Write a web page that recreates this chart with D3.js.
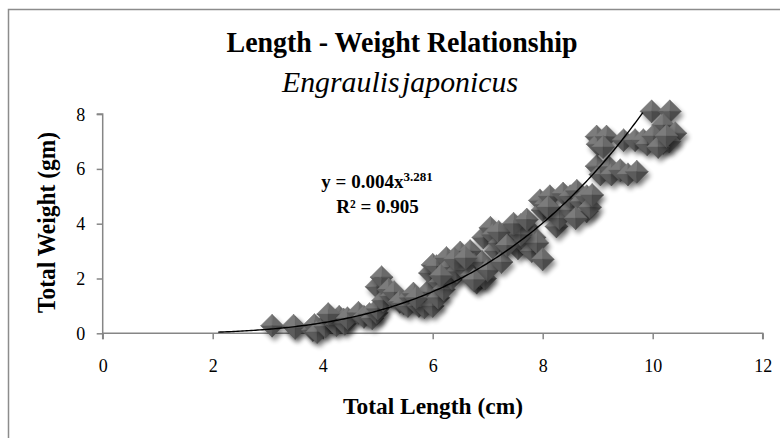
<!DOCTYPE html>
<html><head><meta charset="utf-8">
<script src="https://cdn.jsdelivr.net/npm/d3@7"></script>
<style>
body{margin:0;background:#fff}
svg{display:block}
text{font-family:"Liberation Serif","Times New Roman",serif;fill:#000}
</style>
</head><body><svg id="c" width="780" height="438"></svg>
<script>
// Total length (cm) of each fish
const lengths = [
  3.08,3.47,3.50,3.82,3.85,3.90,4.05,4.15,4.20,4.25,4.30,4.38,4.40,4.10,4.45,
  4.65,4.75,4.85,4.90,4.98,5.00,4.98,5.07,5.10,5.20,
  5.25,5.30,5.40,5.47,5.55,5.60,5.65,5.75,5.80,5.85,5.90,5.95,6.00,6.00,5.70,
  6.07,6.10,6.13,6.20,6.25,6.30,6.35,6.44,6.50,6.55,6.60,6.68,6.70,6.75,6.80,6.86,6.90,6.92,6.95,7.00,
  6.15,6.40,6.60,6.75,
  7.05,7.10,7.15,7.22,7.25,7.30,7.41,7.50,7.55,7.60,7.65,7.70,7.74,7.80,7.85,7.90,8.00,7.20,7.35,7.60,
  7.47,7.71,7.95,8.00,8.05,8.13,8.19,8.25,8.30,8.37,8.50,8.50,8.62,8.70,8.80,8.80,8.86,8.90,8.10,8.60,
  8.98,8.98,9.00,9.05,9.16,9.20,9.25,9.41,9.47,9.55,9.68,9.71,9.83,9.90,9.10,
  9.98,10.31,10.19,10.01,10.19,10.41,10.30,10.10,10.25
];
// Total weight (gm) of each fish
const weights = [
  0.28,0.28,0.20,0.12,0.30,0.05,0.25,0.55,0.40,0.30,0.60,0.50,0.35,0.70,0.55,
  0.75,0.60,0.70,0.55,0.75,0.90,1.70,2.05,1.20,1.60,
  1.35,1.50,1.15,1.10,1.00,1.30,1.45,1.00,1.20,0.95,1.50,2.20,1.00,2.50,1.30,
  2.45,1.30,1.85,1.60,2.75,2.40,2.00,2.25,2.95,2.60,2.30,3.00,2.10,2.50,1.85,2.07,2.60,3.50,2.00,2.30,
  2.10,2.70,2.75,1.95,
  3.85,3.60,3.00,3.30,2.60,3.50,3.80,3.60,3.10,3.95,3.30,3.90,3.30,3.00,3.50,3.30,2.70,3.70,3.20,3.60,
  4.00,4.15,4.85,4.50,4.70,5.00,4.40,3.90,4.20,5.10,4.50,5.00,5.20,4.80,5.00,4.45,4.60,5.05,4.60,4.20,
  7.18,6.10,6.90,5.80,7.18,6.08,5.80,5.95,7.05,5.80,7.05,5.90,7.05,6.90,6.80,
  8.10,8.10,7.60,7.20,6.95,7.30,7.00,6.80,7.20
];
const xTicks = [0, 2, 4, 6, 8, 10, 12];
const yTicks = [0, 2, 4, 6, 8];
const xDomain = [0, 12];
const yDomain = [0, 8];
// power trendline shown on the chart
const trendA = 0.00353, trendB = 3.385, trendStart = 2.1, trendEnd = 9.82;
const titleText = "Length - Weight Relationship";
const subtitleText = "Engraulis japonicus";
const xTitle = "Total Length (cm)";
const yTitle = "Total Weight  (gm)";
const eqMain = "y = 0.004x", eqExp = "3.281", r2Text = "R² = 0.905";

const svg = d3.select("#c");
const defs = svg.append("defs");
const f = defs.append("filter").attr("id","sh").attr("x","-50%").attr("y","-50%").attr("width","200%").attr("height","200%");
f.append("feGaussianBlur").attr("stdDeviation",2.4);

// frame
svg.append("rect").attr("x",8.5).attr("y",9.5).attr("width",800).attr("height",500)
  .attr("fill","#fff").attr("stroke","#8c8c8c").attr("stroke-width",1.5);

const x = d3.scaleLinear().domain(xDomain).range([102.7, 762.7]);
const y = d3.scaleLinear().domain(yDomain).range([333.3, 114.1]);

// titles
svg.append("text").attr("x",402).attr("y",51.7).attr("text-anchor","middle")
  .attr("font-size",30).attr("font-weight","bold")
  .attr("textLength",351).attr("lengthAdjust","spacingAndGlyphs").text(titleText);
svg.append("text").attr("x",400).attr("y",91.7).attr("text-anchor","middle")
  .attr("font-size",30).attr("font-style","italic").attr("word-spacing",-5)
  .attr("textLength",236).attr("lengthAdjust","spacingAndGlyphs").text(subtitleText);

// axes
const ax = svg.append("g").attr("transform",`translate(0,${y(0)})`)
  .call(d3.axisBottom(x).tickValues(xTicks).tickSize(6).tickFormat(d3.format("d")));
const ay = svg.append("g").attr("transform",`translate(${x(0)},0)`)
  .call(d3.axisLeft(y).tickValues(yTicks).tickSize(6).tickFormat(d3.format("d")));
[ax, ay].forEach(g => {
  g.select(".domain").attr("stroke","#868686").attr("stroke-width",1.5);
  g.selectAll(".tick line").attr("stroke","#868686").attr("stroke-width",1.5);
  g.selectAll(".tick text").attr("font-family","Liberation Serif").attr("font-size",18).attr("fill","#000");
});
ax.select(".domain").attr("d",`M${x(0)},6V0H${x(12)}V6`);
ay.select(".domain").attr("d",`M-6,${y(8)}H0V${y(0)}`);
ax.selectAll(".tick text").attr("y",38.7).attr("dy",0);
ay.selectAll(".tick text").attr("x",-17.5).attr("dy","0.33em");

// axis titles
svg.append("text").attr("x",433).attr("y",414).attr("text-anchor","middle")
  .attr("font-size",24).attr("font-weight","bold")
  .attr("textLength",180).attr("lengthAdjust","spacingAndGlyphs").text(xTitle);
svg.append("text").attr("transform","translate(55,222.5) rotate(-90)").attr("text-anchor","middle")
  .attr("font-size",25).attr("font-weight","bold")
  .attr("textLength",181).attr("lengthAdjust","spacingAndGlyphs").text(yTitle);

// markers
const data = lengths.map((l,i)=>({l, w:weights[i]}));
const s = 11.5;
const mk = svg.append("g");
data.forEach(d => {
  const cx = x(d.l), cy = y(d.w);
  const g = mk.append("g").attr("transform",`translate(${cx},${cy})`);
  g.append("path").attr("d",`M0,${-s}L${s},0L0,${s}L${-s},0Z`)
    .attr("transform","translate(2.5,4)").attr("fill","#000").attr("opacity",0.45).attr("filter","url(#sh)");
  const facets = [
    [`M0,0L0,${-s}L${-s},0Z`, "#7c7c7c"],
    [`M0,0L0,${-s}L${s},0Z`, "#6a6a6a"],
    [`M0,0L${-s},0L0,${s}Z`, "#5c5c5c"],
    [`M0,0L${s},0L0,${s}Z`, "#4b4b4b"]
  ];
  facets.forEach(([p,c]) => g.append("path").attr("d",p).attr("fill",c).attr("stroke",c).attr("stroke-width",0.4));
});

// trendline
const tx = d3.range(trendStart, trendEnd, 0.04).concat([trendEnd]);
svg.append("path").datum(tx.map(v=>[v, trendA*Math.pow(v,trendB)]))
  .attr("fill","none").attr("stroke","#000").attr("stroke-width",1.4)
  .attr("d", d3.line().x(d=>x(d[0])).y(d=>y(d[1])));

// equation
const eq = svg.append("text").attr("x",377).attr("y",188).attr("text-anchor","middle")
  .attr("font-size",19).attr("font-weight","bold");
eq.append("tspan").text(eqMain);
eq.append("tspan").attr("font-size",13).attr("dy",-7).text(eqExp);
svg.append("text").attr("x",377.5).attr("y",213).attr("text-anchor","middle")
  .attr("font-size",19).attr("font-weight","bold").text(r2Text);
</script></body></html>
